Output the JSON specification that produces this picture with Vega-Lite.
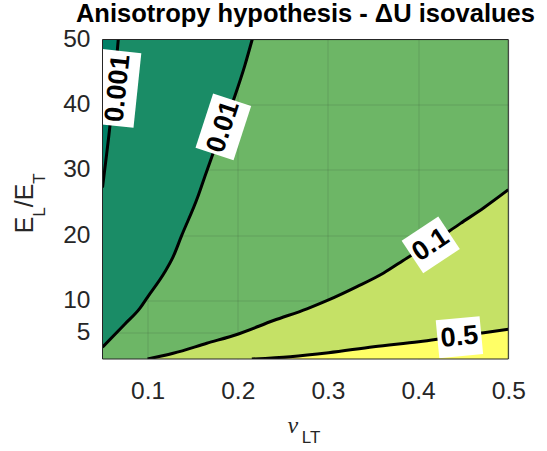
{
  "$schema": "https://vega.github.io/schema/vega-lite/v6.json",
  "width": 405.8,
  "height": 319.5,
  "autosize": {"type": "none"},
  "padding": {"left": 102.5, "top": 39.5, "right": 38.7, "bottom": 92},
  "title": {"text": "Anisotropy hypothesis - ΔU isovalues", "font": "Liberation Sans", "fontSize": 25.5, "fontWeight": "bold", "color": "#000000", "anchor": "middle", "frame": "group", "offset": 2, "dy": 3},
  "datasets": {
    "curves": [
      {"level": "0.001", "nu": 0.05, "E": 27.3},
      {"level": "0.001", "nu": 0.0535, "E": 31.2},
      {"level": "0.001", "nu": 0.057, "E": 35.2},
      {"level": "0.001", "nu": 0.0605, "E": 39.6},
      {"level": "0.001", "nu": 0.064, "E": 44.6},
      {"level": "0.001", "nu": 0.0675, "E": 50},
      {"level": "0.01", "nu": 0.05, "E": 2.8},
      {"level": "0.01", "nu": 0.0744, "E": 6.3},
      {"level": "0.01", "nu": 0.0916, "E": 8.8},
      {"level": "0.01", "nu": 0.1, "E": 10.5},
      {"level": "0.01", "nu": 0.1189, "E": 14.3},
      {"level": "0.01", "nu": 0.1284, "E": 16.7},
      {"level": "0.01", "nu": 0.1374, "E": 19.8},
      {"level": "0.01", "nu": 0.156, "E": 26.0},
      {"level": "0.01", "nu": 0.1618, "E": 28.3},
      {"level": "0.01", "nu": 0.1707, "E": 31.8},
      {"level": "0.01", "nu": 0.1967, "E": 41.3},
      {"level": "0.01", "nu": 0.2078, "E": 46.0},
      {"level": "0.01", "nu": 0.216, "E": 50},
      {"level": "0.1", "nu": 0.1, "E": 1},
      {"level": "0.1", "nu": 0.1284, "E": 1.88},
      {"level": "0.1", "nu": 0.1656, "E": 3.41},
      {"level": "0.1", "nu": 0.2007, "E": 4.84},
      {"level": "0.1", "nu": 0.2396, "E": 6.9},
      {"level": "0.1", "nu": 0.2767, "E": 8.7},
      {"level": "0.1", "nu": 0.3007, "E": 10.06},
      {"level": "0.1", "nu": 0.3322, "E": 12.1},
      {"level": "0.1", "nu": 0.3618, "E": 14.2},
      {"level": "0.1", "nu": 0.3878, "E": 16.5},
      {"level": "0.1", "nu": 0.414, "E": 18.7},
      {"level": "0.1", "nu": 0.447, "E": 21.8},
      {"level": "0.1", "nu": 0.4729, "E": 24.2},
      {"level": "0.1", "nu": 0.5, "E": 26.96},
      {"level": "0.5", "nu": 0.2156, "E": 1},
      {"level": "0.5", "nu": 0.2581, "E": 1.36},
      {"level": "0.5", "nu": 0.3007, "E": 1.97},
      {"level": "0.5", "nu": 0.3507, "E": 2.89},
      {"level": "0.5", "nu": 0.4007, "E": 3.66},
      {"level": "0.5", "nu": 0.4729, "E": 5.04},
      {"level": "0.5", "nu": 0.5, "E": 5.56}
    ],
    "labels": [
      {"level": "0.001", "nu": 0.0672, "E": 42.5},
      {"level": "0.01", "nu": 0.184, "E": 36.6},
      {"level": "0.1", "nu": 0.414, "E": 18.5},
      {"level": "0.5", "nu": 0.4458, "E": 4.35}
    ]
  },
  "config": {
    "view": {"fill": "#6db666", "stroke": null},
    "axis": {"labelFont": "Liberation Sans", "labelFontSize": 24.5, "labelColor": "#262626", "grid": true, "gridColor": "#262626", "gridOpacity": 0.15, "gridWidth": 1, "ticks": false, "tickSize": 0, "domain": false, "zindex": 1, "labelFlush": false, "labelOverlap": false},
    "axisX": {"labelPadding": 20},
    "axisY": {"labelPadding": 12.5}
  },
  "layer": [
    {
      "data": {"name": "curves"},
      "transform": [{"filter": "datum.level == '0.1'"}],
      "mark": {"type": "area", "color": "#c5e166", "interpolate": "monotone", "clip": true},
      "encoding": {
        "x": {"field": "nu", "type": "quantitative", "title": null, "scale": {"domain": [0.05, 0.5], "nice": false, "zero": false}, "axis": {"values": [0.1, 0.2, 0.3, 0.4, 0.5], "format": ".1f", "title": null}},
        "y": {"field": "E", "type": "quantitative", "title": null, "scale": {"domain": [1, 50], "nice": false, "zero": false}, "axis": {"values": [5, 10, 20, 30, 40, 50], "title": null}},
        "y2": {"datum": 1}
      }
    },
    {
      "data": {"name": "curves"},
      "transform": [{"filter": "datum.level == '0.5'"}],
      "mark": {"type": "area", "color": "#ffff66", "interpolate": "monotone", "clip": true},
      "encoding": {
        "x": {"field": "nu", "type": "quantitative", "title": null},
        "y": {"field": "E", "type": "quantitative", "title": null},
        "y2": {"datum": 1}
      }
    },
    {
      "data": {"name": "curves"},
      "transform": [{"filter": "datum.level == '0.01'"}],
      "mark": {"type": "area", "color": "#1a8c66", "interpolate": "monotone", "clip": true},
      "encoding": {
        "x": {"field": "nu", "type": "quantitative", "title": null},
        "y": {"field": "E", "type": "quantitative", "title": null},
        "y2": {"datum": 50}
      }
    },
    {
      "data": {"name": "curves"},
      "transform": [{"filter": "datum.level == '0.001'"}],
      "mark": {"type": "area", "color": "#008066", "interpolate": "monotone", "clip": true},
      "encoding": {
        "x": {"field": "nu", "type": "quantitative", "title": null},
        "y": {"field": "E", "type": "quantitative", "title": null},
        "y2": {"datum": 50}
      }
    },
    {
      "data": {"name": "curves"},
      "mark": {"type": "line", "color": "#000000", "strokeWidth": 3, "interpolate": "monotone", "clip": true},
      "encoding": {
        "x": {"field": "nu", "type": "quantitative", "title": null},
        "y": {"field": "E", "type": "quantitative", "title": null},
        "detail": {"field": "level"}
      }
    },
    {
      "data": {"name": "labels"},
      "transform": [{"filter": "datum.level == '0.001'"}],
      "mark": {"type": "point", "shape": "M-1,-0.52L1,-0.52L1,0.52L-1,0.52Z", "size": 5625, "angle": 276, "filled": true, "color": "#ffffff", "opacity": 1, "strokeWidth": 0, "clip": true},
      "encoding": {"x": {"field": "nu", "type": "quantitative", "title": null}, "y": {"field": "E", "type": "quantitative", "title": null}}
    },
    {
      "data": {"name": "labels"},
      "transform": [{"filter": "datum.level == '0.001'"}],
      "mark": {"type": "text", "font": "Liberation Sans", "fontWeight": "bold", "fontSize": 27, "angle": 276, "align": "center", "baseline": "middle", "color": "#000000", "clip": true},
      "encoding": {"x": {"field": "nu", "type": "quantitative", "title": null}, "y": {"field": "E", "type": "quantitative", "title": null}, "text": {"field": "level"}}
    },
    {
      "data": {"name": "labels"},
      "transform": [{"filter": "datum.level == '0.01'"}],
      "mark": {"type": "point", "shape": "M-1,-0.7018L1,-0.7018L1,0.7018L-1,0.7018Z", "size": 3249, "angle": 288, "filled": true, "color": "#ffffff", "opacity": 1, "strokeWidth": 0, "clip": true},
      "encoding": {"x": {"field": "nu", "type": "quantitative", "title": null}, "y": {"field": "E", "type": "quantitative", "title": null}}
    },
    {
      "data": {"name": "labels"},
      "transform": [{"filter": "datum.level == '0.01'"}],
      "mark": {"type": "text", "font": "Liberation Sans", "fontWeight": "bold", "fontSize": 27, "angle": 288, "align": "center", "baseline": "middle", "color": "#000000", "clip": true},
      "encoding": {"x": {"field": "nu", "type": "quantitative", "title": null}, "y": {"field": "E", "type": "quantitative", "title": null}, "text": {"field": "level"}}
    },
    {
      "data": {"name": "labels"},
      "transform": [{"filter": "datum.level == '0.1'"}],
      "mark": {"type": "point", "shape": "M-1,-0.886L1,-0.886L1,0.886L-1,0.886Z", "size": 1936, "angle": 326.4, "filled": true, "color": "#ffffff", "opacity": 1, "strokeWidth": 0, "clip": true},
      "encoding": {"x": {"field": "nu", "type": "quantitative", "title": null}, "y": {"field": "E", "type": "quantitative", "title": null}}
    },
    {
      "data": {"name": "labels"},
      "transform": [{"filter": "datum.level == '0.1'"}],
      "mark": {"type": "text", "font": "Liberation Sans", "fontWeight": "bold", "fontSize": 27, "angle": 326.4, "align": "center", "baseline": "middle", "color": "#000000", "clip": true},
      "encoding": {"x": {"field": "nu", "type": "quantitative", "title": null}, "y": {"field": "E", "type": "quantitative", "title": null}, "text": {"field": "level"}}
    },
    {
      "data": {"name": "labels"},
      "transform": [{"filter": "datum.level == '0.5'"}],
      "mark": {"type": "point", "shape": "M-1,-0.864L1,-0.864L1,0.864L-1,0.864Z", "size": 1936, "angle": 354.6, "filled": true, "color": "#ffffff", "opacity": 1, "strokeWidth": 0, "clip": true},
      "encoding": {"x": {"field": "nu", "type": "quantitative", "title": null}, "y": {"field": "E", "type": "quantitative", "title": null}}
    },
    {
      "data": {"name": "labels"},
      "transform": [{"filter": "datum.level == '0.5'"}],
      "mark": {"type": "text", "font": "Liberation Sans", "fontWeight": "bold", "fontSize": 27, "angle": 354.6, "align": "center", "baseline": "middle", "color": "#000000", "clip": true},
      "encoding": {"x": {"field": "nu", "type": "quantitative", "title": null}, "y": {"field": "E", "type": "quantitative", "title": null}, "text": {"field": "level"}}
    },
    {
      "data": {"values": [{}]},
      "mark": {"type": "rect", "filled": false, "color": "#262626", "strokeWidth": 1},
      "encoding": {"x": {"datum": 0.05, "title": null}, "x2": {"datum": 0.5}, "y": {"datum": 1, "title": null}, "y2": {"datum": 50}}
    },
    {
      "data": {"values": [{}]},
      "mark": {"type": "text", "text": "E", "font": "Liberation Sans", "fontSize": 25, "color": "#262626", "angle": 270, "align": "left", "baseline": "alphabetic", "dx": -34, "dy": -69.2},
      "encoding": {"x": {"datum": 0.05, "title": null}, "y": {"datum": 25.5, "title": null}}
    },
    {
      "data": {"values": [{}]},
      "mark": {"type": "text", "text": "L", "font": "Liberation Sans", "fontSize": 17, "color": "#262626", "angle": 270, "align": "left", "baseline": "alphabetic", "dx": -17.5, "dy": -57.5},
      "encoding": {"x": {"datum": 0.05, "title": null}, "y": {"datum": 25.5, "title": null}}
    },
    {
      "data": {"values": [{}]},
      "mark": {"type": "text", "text": "/", "font": "Liberation Sans", "fontSize": 25, "color": "#262626", "angle": 270, "align": "left", "baseline": "alphabetic", "dx": -8, "dy": -69.2},
      "encoding": {"x": {"datum": 0.05, "title": null}, "y": {"datum": 25.5, "title": null}}
    },
    {
      "data": {"values": [{}]},
      "mark": {"type": "text", "text": "E", "font": "Liberation Sans", "fontSize": 25, "color": "#262626", "angle": 270, "align": "left", "baseline": "alphabetic", "dx": -1, "dy": -69.2},
      "encoding": {"x": {"datum": 0.05, "title": null}, "y": {"datum": 25.5, "title": null}}
    },
    {
      "data": {"values": [{}]},
      "mark": {"type": "text", "text": "T", "font": "Liberation Sans", "fontSize": 17, "color": "#262626", "angle": 270, "align": "left", "baseline": "alphabetic", "dx": 15.5, "dy": -57.5},
      "encoding": {"x": {"datum": 0.05, "title": null}, "y": {"datum": 25.5, "title": null}}
    },
    {
      "data": {"values": [{}]},
      "mark": {"type": "text", "text": "ν", "font": "Liberation Serif", "fontStyle": "italic", "fontSize": 24, "color": "#262626", "align": "left", "baseline": "alphabetic", "dx": -18, "dy": 74.3},
      "encoding": {"x": {"datum": 0.275, "title": null}, "y": {"datum": 1, "title": null}}
    },
    {
      "data": {"values": [{}]},
      "mark": {"type": "text", "text": "LT", "font": "Liberation Sans", "fontSize": 17, "color": "#262626", "align": "left", "baseline": "alphabetic", "dx": -3.7, "dy": 84.3},
      "encoding": {"x": {"datum": 0.275, "title": null}, "y": {"datum": 1, "title": null}}
    }
  ]
}
